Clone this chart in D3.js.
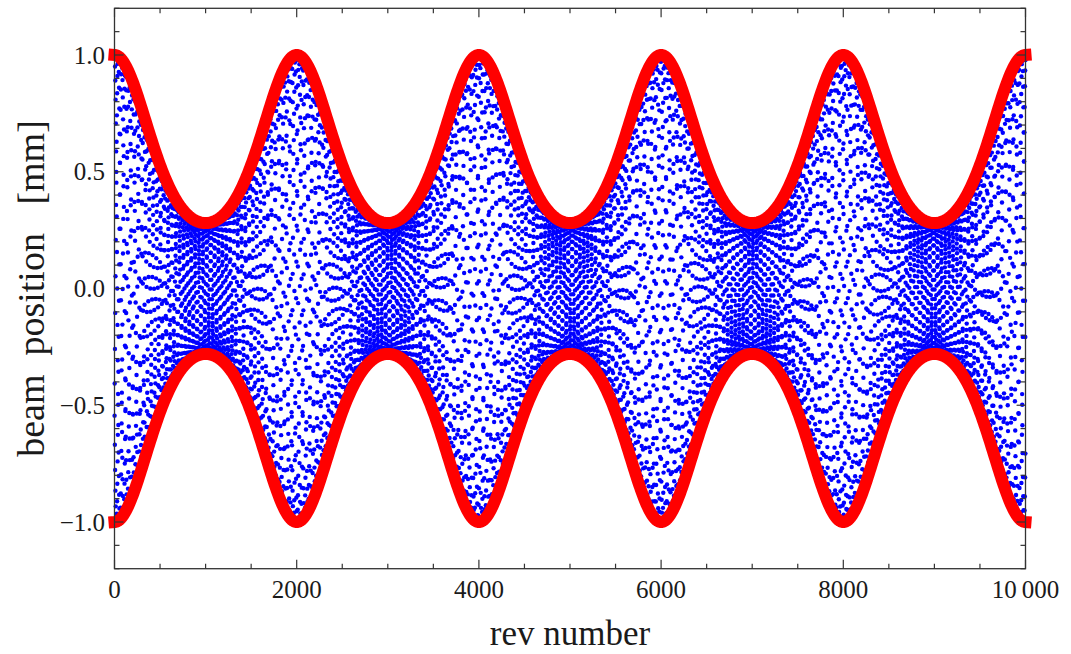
<!DOCTYPE html>
<html><head><meta charset="utf-8">
<script src="https://cdn.jsdelivr.net/npm/d3@7"></script>
<style>
  body { margin: 0; background: #fff; }
  text { font-family: "Liberation Serif", "Times New Roman", serif; fill: #1a1a1a; }
</style></head>
<body><svg id="chart" width="1071" height="654"></svg>
<script>
// Turn-by-turn beam position over 10 000 revolutions.
const revRange       = [0, 10000];
const revTicks       = [0, 2000, 4000, 6000, 8000, 10000];
const revTickLabels  = ["0", "2000", "4000", "6000", "8000", "10\u2009000"];
const posTicks       = [-1.0, -0.5, 0.0, 0.5, 1.0];
const posTickLabels  = ["\u22121.0", "\u22120.5", "0.0", "0.5", "1.0"];
const amplitudeRange = [0.28, 1.0];        // envelope minimum / maximum, mm
const beatPeriod     = [2000];             // revolutions between envelope maxima
const tuneParams     = [41 / 120, 0.00027]; // tune at envelope maximum, tune-modulation depth

const W = 1071, H = 654;
const frame = { left: 114.5, right: 1025.5, top: 8.3, bottom: 568.7 };

const x = d3.scaleLinear().domain(revRange).range([frame.left, frame.right]);
const y = d3.scaleLinear().domain([-1.2, 1.2]).range([frame.bottom, frame.top]);

// Tracking: amplitude and tune both modulated with the beat period.
const T = beatPeriod[0];
const [aMin, aMax] = amplitudeRange;
const [qPeak, dQ] = tuneParams;
const q0 = qPeak - dQ;
const envelope = n => aMax * Math.exp(Math.log(aMin / aMax) * Math.sin(Math.PI * n / T) ** 2);
const phase = n => 2 * Math.PI * (q0 * n + dQ * T / (2 * Math.PI) * Math.sin(2 * Math.PI * n / T));

const turns = d3.range(revRange[0], revRange[1] + 1);
const beam = turns.map(n => ({ rev: n, pos: envelope(n) * Math.cos(phase(n)) }));
const envPts = d3.range(revRange[0], revRange[1] + 1, 10).map(n => ({ rev: n, amp: envelope(n) }));

const svg = d3.select("#chart");

// beam positions
svg.append("g").selectAll("circle").data(beam).join("circle")
  .attr("cx", d => x(d.rev)).attr("cy", d => y(d.pos))
  .attr("r", 2.2).attr("fill", "#0000ff");

// envelope
const upper = d3.line().x(d => x(d.rev)).y(d => y(d.amp));
const lower = d3.line().x(d => x(d.rev)).y(d => y(-d.amp));
[upper, lower].forEach(gen => {
  svg.append("path").datum(envPts).attr("d", gen)
    .attr("fill", "none").attr("stroke", "#ff0000")
    .attr("stroke-width", 12).attr("stroke-linecap", "square").attr("stroke-linejoin", "round");
});

// frame
svg.append("rect")
  .attr("x", frame.left).attr("y", frame.top)
  .attr("width", frame.right - frame.left).attr("height", frame.bottom - frame.top)
  .attr("fill", "none").attr("stroke", "#333").attr("stroke-width", 1.3);

const major = 9, minor = 5;
const xMinor = d3.range(0, 10001, 500).filter(v => !revTicks.includes(v));
const yMinor = d3.range(-12, 13).map(v => v / 10).filter(v => !posTicks.some(t => Math.abs(t - v) < 1e-9));

const ticks = svg.append("g").attr("stroke", "#333").attr("stroke-width", 1.2);
function xTick(v, len) {
  ticks.append("line").attr("x1", x(v)).attr("x2", x(v)).attr("y1", frame.bottom).attr("y2", frame.bottom - len);
  ticks.append("line").attr("x1", x(v)).attr("x2", x(v)).attr("y1", frame.top).attr("y2", frame.top + len);
}
function yTick(v, len) {
  ticks.append("line").attr("y1", y(v)).attr("y2", y(v)).attr("x1", frame.left).attr("x2", frame.left + len);
  ticks.append("line").attr("y1", y(v)).attr("y2", y(v)).attr("x1", frame.right).attr("x2", frame.right - len);
}
revTicks.forEach(v => xTick(v, major));
xMinor.forEach(v => xTick(v, minor));
posTicks.forEach(v => yTick(v, major));
yMinor.forEach(v => yTick(v, minor));

// tick labels
svg.append("g").selectAll("text").data(revTicks).join("text")
  .attr("x", d => x(d)).attr("y", 598)
  .attr("text-anchor", "middle").attr("font-size", 25)
  .text((d, i) => revTickLabels[i]);
svg.append("g").selectAll("text").data(posTicks).join("text")
  .attr("x", 105).attr("y", d => y(d) + 8.5)
  .attr("text-anchor", "end").attr("font-size", 25)
  .text((d, i) => posTickLabels[i]);

// axis titles
svg.append("text").attr("x", (frame.left + frame.right) / 2).attr("y", 645)
  .attr("text-anchor", "middle").attr("font-size", 35).text("rev number");
svg.append("text")
  .attr("transform", `translate(44, ${(frame.top + frame.bottom) / 2}) rotate(-90)`)
  .attr("text-anchor", "middle").attr("font-size", 38)
  .style("white-space", "pre").attr("xml:space", "preserve")
  .text("beam  position   [mm]");
</script></body></html>
